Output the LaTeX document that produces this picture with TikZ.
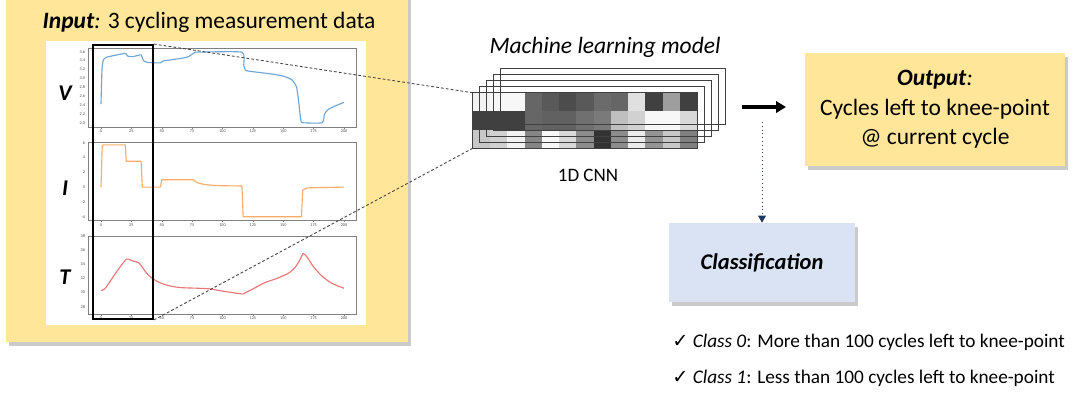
\documentclass[tikz,border=0pt]{standalone}
\usepackage{fontspec}
\setmainfont{Carlito}
\newfontfamily\checkfont{DejaVu Sans}
\usetikzlibrary{arrows.meta, positioning, shadows, calc}
\definecolor{panelyellow}{RGB}{255,230,153}
\definecolor{panelblue}{RGB}{218,227,243}
\definecolor{arrownavy}{RGB}{31,56,100}
\definecolor{vblue}{RGB}{110,165,215}
\definecolor{iorange}{RGB}{250,172,100}
\definecolor{tred}{RGB}{232,118,118}
\definecolor{framegray}{RGB}{128,128,128}

\begin{document}
\begin{tikzpicture}[x=0.025cm, y=-0.025cm,
  panel/.style={fill=panelyellow, draw=none, drop shadow={shadow xshift=0.07cm, shadow yshift=-0.09cm, opacity=0.35, fill=black!60}},
  bluebox/.style={fill=panelblue, draw=none, drop shadow={shadow xshift=0.07cm, shadow yshift=-0.09cm, opacity=0.35, fill=black!60}},
  plotframe/.style={draw=framegray, line width=0.6pt},
  ticklbl/.style={font=\fontsize{3}{3}\selectfont, text=black!70, inner sep=0.5pt},
  axislbl/.style={font=\fontsize{16}{18}\selectfont\bfseries\itshape},
  curve/.style={line width=0.8pt, line join=round},
  layer/.style={draw=black!75, line width=0.5pt},
  zoomline/.style={black!75, line width=0.6pt, dash pattern=on 2pt off 1.5pt},
  bodytext/.style={font=\fontsize{16.7}{21}\selectfont},
  classline/.style={anchor=west, font=\fontsize{13.7}{15}\selectfont, inner sep=0pt}
]
  \useasboundingbox (0,0) rectangle (1079,397);

  \fill[panel] (6,-10) rectangle (408,342);
  \node[font=\fontsize{16.7}{20}\selectfont] (title) at (209,22) {\textbf{\textit{Input}}\textit{:} 3 cycling measurement data};
  \fill[white] (46,41) rectangle (366,325);

  % three measurement plots
  \draw[plotframe] (88,48) rectangle (356,127);
  \draw[plotframe] (88,142) rectangle (356,220);
  \draw[plotframe] (88,236) rectangle (356,314);
  \foreach \d in {0,25,...,200} {
    \node[ticklbl] at ({101+1.215*\d},131) {\d};
    \node[ticklbl] at ({101+1.215*\d},225) {\d};
    \node[ticklbl] at ({101+1.215*\d},318.5) {\d};
    \draw[framegray, line width=0.3pt] ({101+1.215*\d},127) -- ++(0,1.5) ({101+1.215*\d},220) -- ++(0,1.5) ({101+1.215*\d},314) -- ++(0,1.5);
  }
  \foreach \v in {2.0,2.2,2.4,2.6,2.8,3.0,3.2,3.4,3.6}
    \node[ticklbl, anchor=east] at (86,{211.54-44.4*\v}) {\v};
  \foreach \v in {-4,-2,0,2,4,6}
    \node[ticklbl, anchor=east] at (86,{187.1-7.4*\v}) {\v};
  \foreach \v in {28,30,32,34,36,38}
    \node[ticklbl, anchor=east] at (86,{505.5-7.1*\v}) {\v};

  \begin{scope}[shift={(101,211.54)}, xscale=1.215, yscale=-44.4]
    \draw[curve, vblue] plot[smooth, tension=0.3] coordinates {(0,2.42) (0.8,3.2) (2,3.42) (5,3.48) (10,3.51) (19,3.56) (20.5,3.56) (22,3.5) (26,3.49) (31,3.52) (33,3.53) (35,3.4) (38,3.36) (44,3.35) (49,3.35) (51,3.39) (56,3.41) (66,3.45) (72,3.49) (77,3.58) (80,3.59) (116,3.59) (117.5,3.3) (119,3.18) (125,3.15) (140,3.1) (150,3.05) (157,2.97) (161,2.8) (163,2.4) (164.5,2.05) (166,2.0) (182,2.0) (184,2.2) (187,2.3) (192,2.37) (200,2.46)};
  \end{scope}
  \begin{scope}[shift={(101,187.1)}, xscale=1.215, yscale=-7.4]
    \draw[curve, iorange] (0,0) -- (1,5.5) -- (2,5.7) -- (20,5.7) -- (20.8,3.5) -- (33,3.5) -- (34,0) -- (49,0) -- (50,1) -- (76,1) -- (79,0.6) -- (85,0.35) -- (95,0.2) -- (116,0.15) -- (117,-4) -- (165,-4) -- (166,-0.4) -- (170,-0.1) -- (200,0);
  \end{scope}
  \begin{scope}[shift={(101,505.5)}, xscale=1.215, yscale=-7.1]
    \draw[curve, tred] plot[smooth, tension=0.5] coordinates {(0,30.3) (3,30.5) (8,31.7) (14,33.2) (21,34.7) (25,34.5) (31,34.2) (35,33.3) (40,32.3) (47,31.5) (55,31.0) (65,30.7) (80,30.6) (90,30.5) (100,30.2) (116,29.8) (118,29.9) (125,30.5) (135,31.4) (145,32.0) (155,32.8) (160,33.6) (164,34.7) (166.5,35.5) (170,34.9) (175,33.6) (182,32.3) (190,31.3) (200,30.6)};
  \end{scope}

  \node[axislbl] (vlbl) at (65,93) {V};
  \node[axislbl] (ilbl) at (65,188) {I};
  \node[axislbl] (tlbl) at (65,277) {T};

  \node[draw=black, line width=1.3pt, minimum width=1.5cm, minimum height=6.85cm, inner sep=0] (window) at (123,182) {};

  % 1D CNN stack
  \node[font=\fontsize{16.7}{20}\selectfont\itshape] (mlmodel) at (605,47) {Machine learning model};
  \node[minimum width=5.6cm, minimum height=1.375cm, inner sep=0] (grid) at (585,120.5) {};
  \foreach \row [count=\r from 0] in {{5,3,3,60,65,70,65,58,60,12,75,38,75},{75,75,75,60,62,62,56,52,25,18,3,3,15},{22,18,5,48,3,15,45,80,45,8,42,22,50}}
    \foreach \k [count=\c from 0] in \row
      \fill[black!\k] ({473+\c*17.231},{93+\r*18.333}) rectangle +(17.231,18.333);
  \draw[layer] (grid.south west) rectangle (grid.north east);
  \foreach \k in {1,...,4}
    \draw[layer] ($(grid.south west)+(7*\k,-6*\k)$) rectangle ($(grid.north east)+(7*\k,-6*\k)$);
  \node[font=\fontsize{13.5}{16}\selectfont] (cnnlbl) at (588,175) {1D CNN};

  \draw[zoomline] (window.north east) -- (grid.north west);
  \draw[zoomline] (window.south east) -- (grid.south west);

  % output and classification
  \node[panel, minimum width=6.5cm, minimum height=2.825cm, align=center, bodytext] (output) at (935,109.5) {\textbf{\textit{Output}}\textit{:}\\Cycles left to knee-point\\@ current cycle};
  \coordinate (arrowstart) at (742,107);
  \coordinate (arrowend) at (786,107);
  \draw[line width=2.2pt, -{Triangle[length=7pt, width=8pt]}] (arrowstart) -- (arrowend);

  \node[bluebox, minimum width=4.65cm, minimum height=1.975cm, font=\fontsize{16}{18}\selectfont\bfseries\itshape] (class) at (762,262.5) {Classification};
  \coordinate (dotstart) at (762,122);
  \draw[arrownavy, line width=0.7pt, dotted, -{Triangle[length=5pt, width=5.5pt]}] (dotstart) -- (class.north);

  \node[classline] (class0) at (672,342) {{\checkfont ✓} \textit{Class 0}: More than 100 cycles left to knee-point};
  \node[classline] (class1) at (672,378) {{\checkfont ✓} \textit{Class 1}: Less than 100 cycles left to knee-point};
\end{tikzpicture}
\end{document}
